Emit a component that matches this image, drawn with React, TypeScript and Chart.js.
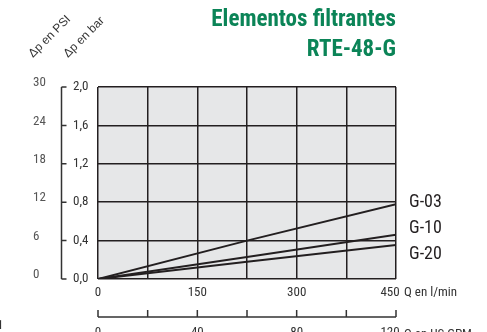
import React, { useEffect, useRef } from 'react';
import { Chart, registerables } from 'chart.js';

Chart.register(...registerables);

// ---- data ----
const flowLpm = [0, 225, 450];
const g03 = [0, 0.4, 0.78];
const g10 = [0, 0.23, 0.46];
const g20 = [0, 0.18, 0.355];
const seriesNames = ['G-03', 'G-10', 'G-20'];
const seriesLabelAt = [0.8, 0.53, 0.26];
const barTicks = [0, 0.4, 0.8, 1.2, 1.6, 2.0];
const psiTicks = [0, 6, 12, 18, 24, 30];
const lpmGrid = [0, 75, 150, 225, 300, 375, 450];
const lpmTicks = [0, 150, 300, 450];
const gpmTicks = [0, 40, 80, 120];
const gpmMarks = [0, 20, 40, 60, 80, 100, 120];
const titleLines = ['Elementos filtrantes', 'RTE-48-G'];
const axisCaptions = ['Δp en PSI', 'Δp en bar'];

const NARROW = "'Liberation Sans Narrow', 'Arial Narrow', 'Roboto Condensed', Arial, sans-serif";
const INK = '#231f20';

const decor = {
  id: 'decor',
  beforeDraw(chart: any) {
    const { ctx, chartArea: a } = chart;
    ctx.save();
    ctx.fillStyle = '#e6e7e8';
    ctx.fillRect(a.left, a.top, a.right - a.left, a.bottom - a.top);
    ctx.restore();
  },
  afterDraw(chart: any) {
    const { ctx, chartArea: a } = chart;
    const y = chart.scales.y;
    const y2 = chart.scales.y2;
    const x2 = chart.scales.x2;

    // rotated axis captions (45 degrees)
    const c = Math.SQRT1_2;
    [y2.left, y.left - 5].forEach((px, i) => {
      ctx.save();
      ctx.setTransform(c, -c, c, c, px, 58);
      ctx.fillStyle = '#333';
      ctx.font = "12px Arial, 'Liberation Sans', sans-serif";
      ctx.textBaseline = 'alphabetic';
      ctx.textAlign = 'left';
      ctx.fillText(axisCaptions[i], 0, 0);
      ctx.restore();
    });

    ctx.save();
    ctx.strokeStyle = '#333';
    ctx.lineWidth = 1.5;
    // bar axis line with ticks to the right
    const axX = y.left - 11.5;
    ctx.beginPath();
    ctx.moveTo(axX, y.getPixelForValue(barTicks[barTicks.length - 1]));
    ctx.lineTo(axX, y.getPixelForValue(0));
    barTicks.forEach((v) => {
      const py = y.getPixelForValue(v);
      ctx.moveTo(axX, py);
      ctx.lineTo(axX + 5, py);
    });
    ctx.stroke();
    // US GPM axis line with ticks upward
    const gy = a.bottom + 38;
    ctx.beginPath();
    ctx.moveTo(x2.getPixelForValue(0), gy);
    ctx.lineTo(x2.getPixelForValue(120), gy);
    gpmMarks.forEach((v) => {
      const px = x2.getPixelForValue(v);
      ctx.moveTo(px, gy);
      ctx.lineTo(px, gy - 7);
    });
    ctx.stroke();

    // series labels
    ctx.fillStyle = INK;
    ctx.font = `18px ${NARROW}`;
    ctx.textBaseline = 'middle';
    ctx.textAlign = 'left';
    seriesNames.forEach((n, i) => {
      ctx.fillText(n, a.right + 13, y.getPixelForValue(seriesLabelAt[i]));
    });

    // unit captions
    ctx.fillStyle = '#333';
    ctx.font = `13px ${NARROW}`;
    ctx.fillText('Q en l/min', a.right + 8, a.bottom + 14);
    ctx.fillText('Q en US GPM', a.right + 8, a.bottom + 56);
    ctx.fillText('1', -3, a.bottom + 47);
    ctx.restore();
  },
};

export default function App() {
  const ref = useRef<HTMLCanvasElement | null>(null);
  useEffect(() => {
    if (!ref.current) return;
    const mk = (vals: number[]) => flowLpm.map((x, i) => ({ x, y: vals[i] }));
    const chart = new Chart(ref.current, {
      type: 'line',
      data: {
        datasets: [g03, g10, g20].map((vals, i) => ({
          label: seriesNames[i],
          data: mk(vals),
          borderColor: INK,
          borderWidth: 2,
          pointRadius: 0,
          tension: 0,
          fill: false,
          xAxisID: 'x',
          yAxisID: 'y',
        })),
      },
      options: {
        animation: false,
        responsive: false,
        layout: { padding: { left: 33, right: 91, top: 0, bottom: 0 } },
        plugins: {
          legend: { display: false },
          tooltip: { enabled: false },
          title: {
            display: true,
            text: titleLines,
            align: 'end',
            color: '#0b8457',
            font: { family: NARROW, size: 23, weight: 'bold', lineHeight: 1.3 },
            padding: { top: 5, bottom: 22.2 },
          },
        },
        scales: {
          x: {
            type: 'linear',
            position: 'bottom',
            weight: 0,
            min: 0,
            max: 450,
            afterBuildTicks: (s: any) => { s.ticks = lpmGrid.map((value) => ({ value })); },
            afterFit: (s: any) => { s.height = 21; },
            grid: { color: INK, lineWidth: 1.5, drawTicks: false },
            border: { display: false },
            ticks: {
              autoSkip: false,
              maxRotation: 0,
              padding: 6,
              color: '#333',
              font: { family: NARROW, size: 13 },
              callback: (v: any) => {
                if (!lpmTicks.includes(v)) return '';
                return v === lpmTicks[lpmTicks.length - 1] ? `${v}    ` : String(v);
              },
            },
          },
          x2: {
            type: 'linear',
            position: 'bottom',
            weight: 10,
            min: 0,
            max: 120,
            afterBuildTicks: (s: any) => { s.ticks = gpmTicks.map((value) => ({ value })); },
            afterFit: (s: any) => { s.height = 32; },
            grid: { display: false, drawTicks: false },
            border: { display: false },
            ticks: {
              autoSkip: false,
              maxRotation: 0,
              padding: 25,
              color: '#333',
              font: { family: NARROW, size: 13 },
              callback: (v: any) => (v === gpmTicks[gpmTicks.length - 1] ? `${v}    ` : String(v)),
            },
          },
          y: {
            type: 'linear',
            position: 'left',
            weight: 0,
            min: 0,
            max: 2,
            afterBuildTicks: (s: any) => { s.ticks = barTicks.map((value) => ({ value })); },
            afterFit: (s: any) => { s.width = 25; },
            grid: { color: INK, lineWidth: 1.5, drawTicks: false },
            border: { display: false },
            ticks: {
              crossAlign: 'far',
              padding: 0,
              color: '#333',
              font: { family: NARROW, size: 13 },
              callback: (v: any) => Number(v).toFixed(1).replace('.', ','),
            },
          },
          y2: {
            type: 'linear',
            position: 'left',
            weight: 10,
            min: 0,
            max: 30,
            afterBuildTicks: (s: any) => { s.ticks = psiTicks.map((value) => ({ value })); },
            afterFit: (s: any) => { s.width = 40; },
            grid: { display: false, drawTicks: false },
            border: { display: false },
            ticks: {
              crossAlign: 'far',
              padding: 0,
              labelOffset: -4,
              color: '#555',
              font: { family: NARROW, size: 13 },
            },
          },
        },
      } as any,
      plugins: [decor],
    });
    return () => chart.destroy();
  }, []);
  return (
    <div style={{ position: 'fixed', left: 0, top: 0, width: 487, height: 332, background: '#fff' }}>
      <canvas ref={ref} width={487} height={332} style={{ display: 'block' }} />
    </div>
  );
}
